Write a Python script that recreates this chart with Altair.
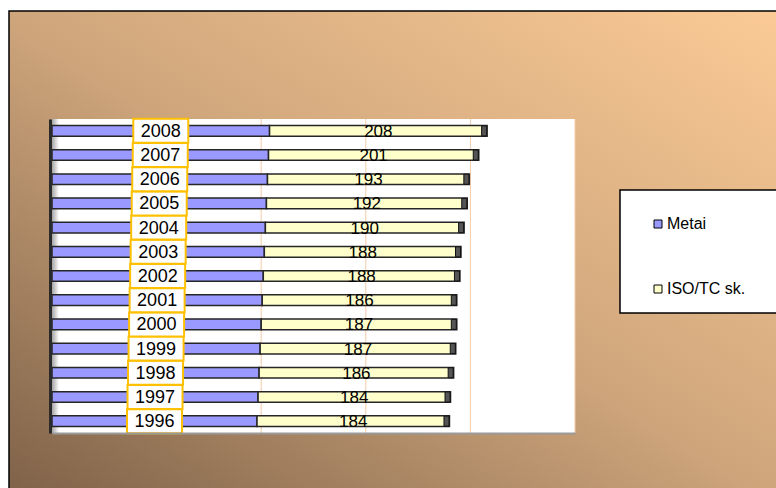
import altair as alt
import pandas as pd

# ---- data -------------------------------------------------------------
years = [1996, 1997, 1998, 1999, 2000, 2001, 2002, 2003, 2004, 2005, 2006, 2007, 2008]
iso_tc = [184, 184, 186, 187, 187, 186, 188, 188, 190, 192, 193, 201, 208]
series = ["Metai", "ISO/TC sk."]
series_colors = ["#9999FF", "#FFFFCC"]
x_domain = [1800, 2300]
grid_values = [1900, 2000, 2100, 2200, 2300]

W, H = 523, 314
FONT = "Liberation Sans"

rows = []
for yr, v in zip(years, iso_tc):
    rows.append({"year": yr, "series": "Metai", "x0": x_domain[0], "x1": yr, "label": str(yr)})
    rows.append({"year": yr, "series": "ISO/TC sk.", "x0": yr, "x1": yr + v, "label": str(v)})
df = pd.DataFrame(rows)
df["mid"] = (df["x0"] + df["x1"]) / 2

x_scale = alt.Scale(domain=x_domain, nice=False, zero=False)
x_axis = alt.Axis(labels=False, ticks=False, grid=False, title=None,
                  domainColor="#9a9a9a", domainWidth=2, zindex=1)
y_enc = alt.Y("year:O", sort="descending", title=None,
              scale=alt.Scale(paddingInner=0.56, paddingOuter=0.27),
              axis=alt.Axis(labels=False, ticks=False, grid=False, title=None,
                            domainColor="#2b2b2b", domainWidth=3, offset=2, zindex=1))

one = alt.Data(values=[{"k": 1}])

# ---- backdrop: gradient panel, white plot wall, legend box -----------
backdrop = alt.Chart(one).mark_rect(
    fill=alt.LinearGradient(
        gradient="linear",
        stops=[alt.GradientStop(color="#7E6148", offset=0),
               alt.GradientStop(color="#CFA67C", offset=0.5),
               alt.GradientStop(color="#FCCB96", offset=1)],
        x1=0, y1=1, x2=1, y2=0),
    stroke="black", strokeWidth=1.5,
).encode(x=alt.value(-43), x2=alt.value(740), y=alt.value(-108), y2=alt.value(380))

plot_wall = alt.Chart(one).mark_rect(fill="white").encode(
    x=alt.value(0), x2=alt.value(W), y=alt.value(0), y2=alt.value(H))

wall_shade = alt.Chart(one).mark_rect(
    fill=alt.LinearGradient(
        gradient="linear",
        stops=[alt.GradientStop(color="#a5a5a5", offset=0),
               alt.GradientStop(color="#ffffff", offset=1)],
        x1=0, y1=0, x2=1, y2=0),
).encode(x=alt.value(0), x2=alt.value(7), y=alt.value(0), y2=alt.value(H))

legend_box = alt.Chart(one).mark_rect(fill="white", stroke="black", strokeWidth=1.5).encode(
    x=alt.value(568), x2=alt.value(740), y=alt.value(71), y2=alt.value(194))

grid = alt.Chart(pd.DataFrame({"g": grid_values})).mark_rule(
    color="#F2CBA8", strokeWidth=1).encode(
    x=alt.X("g:Q", scale=x_scale, axis=x_axis))

# ---- bars ------------------------------------------------------------
base = alt.Chart(df)

bars = base.mark_bar(stroke="#262626", strokeWidth=1.5, opacity=1).encode(
    x=alt.X("x0:Q", scale=x_scale, axis=x_axis),
    x2="x1:Q",
    y=y_enc,
    color=alt.Color("series:N", scale=alt.Scale(domain=series, range=series_colors),
                    legend=alt.Legend(title=None, orient="none", legendX=598, legendY=97,
                                      symbolType="square", symbolSize=64,
                                      symbolStrokeColor="black", symbolStrokeWidth=1,
                                      symbolOpacity=1,
                                      labelFont=FONT, labelFontSize=16, labelColor="black",
                                      labelOffset=1, rowPadding=49, zindex=1)),
    order=alt.Order("x0:Q"),
)

caps = base.transform_filter(alt.datum.series == "ISO/TC sk.").mark_tick(
    orient="vertical", thickness=5, size=10, color="#555555",
    stroke="#111111", strokeWidth=1, xOffset=-3, opacity=1,
).encode(x=alt.X("x1:Q", scale=x_scale, axis=x_axis), y=y_enc)

# year labels in framed boxes on the Metai segment
box_path = "M-2.2917,-1H2.2917V1H-2.2917Z"
year_boxes = base.transform_filter(alt.datum.series == "Metai").mark_point(
    shape=box_path, size=576, filled=True, fill="white",
    stroke="#FFC000", strokeWidth=2, opacity=1,
).encode(x=alt.X("mid:Q", scale=x_scale, axis=x_axis), y=y_enc)

year_text = base.transform_filter(alt.datum.series == "Metai").mark_text(
    font=FONT, fontSize=18, color="black", baseline="middle", align="center", dy=1,
).encode(x=alt.X("mid:Q", scale=x_scale, axis=x_axis), y=y_enc, text="label:N")

value_text = base.transform_filter(alt.datum.series == "ISO/TC sk.").mark_text(
    font=FONT, fontSize=17, color="black", baseline="middle", align="center", dy=1,
).encode(x=alt.X("mid:Q", scale=x_scale, axis=x_axis), y=y_enc, text="label:N")

chart = alt.layer(
    backdrop, plot_wall, wall_shade, legend_box, grid,
    bars, caps, year_boxes, year_text, value_text,
).properties(
    width=W, height=H,
    padding={"left": 52, "top": 119, "right": 201, "bottom": 55},
    autosize="none",
    background="white",
).configure_view(strokeWidth=0)

chart.save("out.html", embed_options={"renderer": "svg", "actions": False})
